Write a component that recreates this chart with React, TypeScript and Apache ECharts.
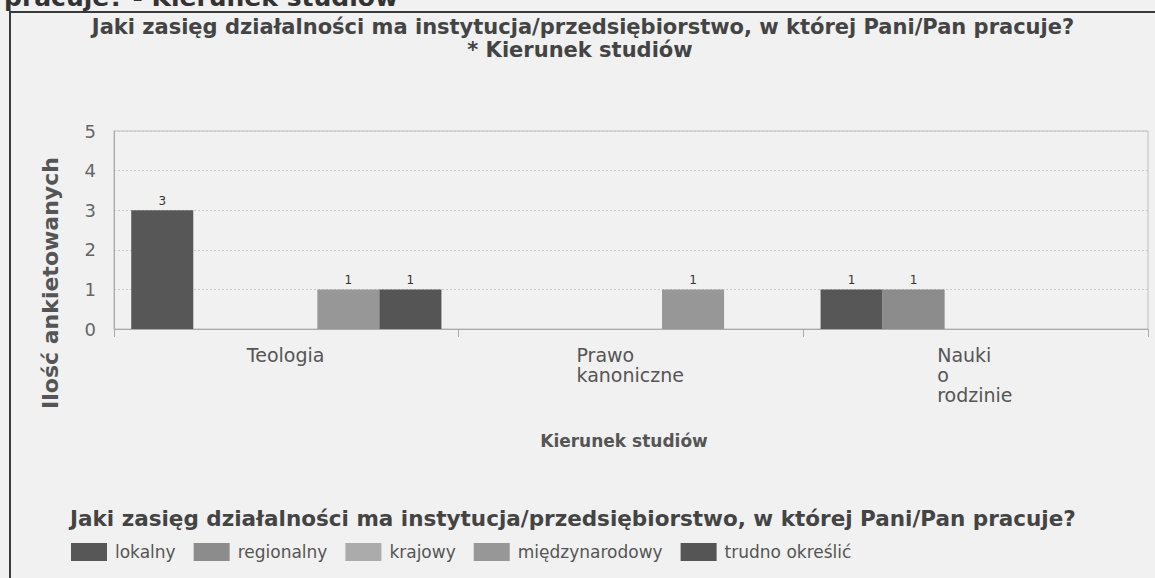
import React, { useEffect, useRef } from "react";
import * as echarts from "echarts";

const categories = ["Teologia", "Prawo\nkanoniczne", "Nauki\no\nrodzinie"];
const seriesNames = ["lokalny", "regionalny", "krajowy", "międzynarodowy", "trudno określić"];
const lokalny = [3, null, 1];
const regionalny = [null, null, 1];
const krajowy = [null, null, null];
const miedzynarodowy = [1, 1, null];
const trudno = [1, null, null];
const seriesValues = [lokalny, regionalny, krajowy, miedzynarodowy, trudno];
const seriesColors = ["#575757", "#8c8c8c", "#ababab", "#979797", "#555555"];
const yTicks = { min: 0, max: 5, interval: 1 };

const mainTitle = "Jaki zasięg działalności ma instytucja/przedsiębiorstwo, w której Pani/Pan pracuje?";
const subTitle = "* Kierunek studiów";
const topCutText = "pracuje? - Kierunek studiów";
const yName = "Ilość ankietowanych";
const xName = "Kierunek studiów";

const FONT = '"DejaVu Sans", Verdana, sans-serif';
const CAT_FONT_SIZE = 19;

function measure(text: string, font: string): number {
  const c = document.createElement("canvas");
  const ctx = c.getContext("2d");
  if (!ctx) return text.length * 10;
  ctx.font = font;
  return ctx.measureText(text).width;
}

export default function App() {
  const ref = useRef<HTMLDivElement>(null);
  useEffect(() => {
    if (!ref.current) return;
    const chart = echarts.init(ref.current, undefined, { renderer: "svg" });

    const rich: Record<string, any> = {};
    categories.forEach((cat, i) => {
      const w = Math.max(...cat.split("\n").map((l) => measure(l, `${CAT_FONT_SIZE}px "DejaVu Sans"`)));
      rich["c" + i] = {
        width: Math.ceil(w) + 1,
        align: "left",
        fontSize: CAT_FONT_SIZE,
        fontFamily: FONT,
        color: "#555",
        lineHeight: 20,
      };
    });

    const option: any = {
      animation: false,
      backgroundColor: "#f1f1f1",
      grid: {
        left: 114,
        top: 131,
        right: 7,
        bottom: 249,
        show: true,
        borderColor: "#bdbdbd",
        borderWidth: 1,
        backgroundColor: "transparent",
      },
      xAxis: {
        type: "category",
        data: categories,
        axisLine: { show: true, lineStyle: { color: "#aaaaaa", width: 1 } },
        axisTick: { show: true, length: 8, lineStyle: { color: "#aaaaaa" } },
        axisLabel: {
          margin: 16,
          interval: 0,
          formatter: (v: string, i: number) =>
            v
              .split("\n")
              .map((l) => `{c${i}|${l}}`)
              .join("\n"),
          rich,
        },
      },
      yAxis: {
        type: "value",
        min: yTicks.min,
        max: yTicks.max,
        interval: yTicks.interval,
        axisLine: { show: true, lineStyle: { color: "#aaaaaa" } },
        axisTick: { show: false },
        axisLabel: { margin: 18, fontSize: 18, fontFamily: FONT, color: "#666" },
        splitLine: { show: true, lineStyle: { color: "#c8c8c8", type: [2, 2], width: 1 } },
      },
      legend: {
        left: 66,
        top: 538,
        icon: "rect",
        itemWidth: 36,
        itemHeight: 18,
        itemGap: 18,
        data: seriesNames,
        textStyle: { fontSize: 17, fontFamily: FONT, color: "#555", padding: [0, 0, 0, 3] },
      },
      series: seriesNames.map((name, i) => ({
        name,
        type: "bar",
        data: seriesValues[i],
        barGap: "0%",
        barCategoryGap: "10%",
        itemStyle: { color: seriesColors[i] },
        label: {
          show: true,
          position: "top",
          distance: 3,
          fontSize: 12,
          fontFamily: FONT,
          color: "#333",
        },
      })),
      graphic: [
        {
          type: "rect",
          silent: true,
          shape: { x: 10, y: 12, width: 1170, height: 600 },
          style: { fill: "none", stroke: "#3a3a3a", lineWidth: 2 },
        },
        {
          type: "text",
          silent: true,
          x: 4,
          y: -3,
          style: {
            text: topCutText,
            fontSize: 25,
            fontWeight: "bold",
            fontFamily: FONT,
            fill: "#333",
            align: "left",
            verticalAlign: "middle",
          },
        },
        {
          type: "text",
          silent: true,
          x: 583,
          y: 27,
          style: {
            text: mainTitle,
            fontSize: 21,
            fontWeight: "bold",
            fontFamily: FONT,
            fill: "#444",
            align: "center",
            verticalAlign: "middle",
          },
        },
        {
          type: "text",
          silent: true,
          x: 580,
          y: 50,
          style: {
            text: subTitle,
            fontSize: 21,
            fontWeight: "bold",
            fontFamily: FONT,
            fill: "#444",
            align: "center",
            verticalAlign: "middle",
          },
        },
        {
          type: "text",
          silent: true,
          x: 50,
          y: 283,
          rotation: Math.PI / 2,
          style: {
            text: yName,
            fontSize: 22,
            fontWeight: "bold",
            fontFamily: FONT,
            fill: "#555",
            align: "center",
            verticalAlign: "middle",
          },
        },
        {
          type: "text",
          silent: true,
          x: 624,
          y: 441,
          style: {
            text: xName,
            fontSize: 17,
            fontWeight: "bold",
            fontFamily: FONT,
            fill: "#555",
            align: "center",
            verticalAlign: "middle",
          },
        },
        {
          type: "text",
          silent: true,
          x: 70,
          y: 518,
          style: {
            text: mainTitle,
            fontSize: 21.5,
            fontWeight: "bold",
            fontFamily: FONT,
            fill: "#444",
            align: "left",
            verticalAlign: "middle",
          },
        },
      ],
    };
    chart.setOption(option);
    return () => chart.dispose();
  }, []);
  return (
    <div
      ref={ref}
      style={{ position: "fixed", left: 0, top: 0, width: 1155, height: 578, background: "#f1f1f1" }}
    />
  );
}
